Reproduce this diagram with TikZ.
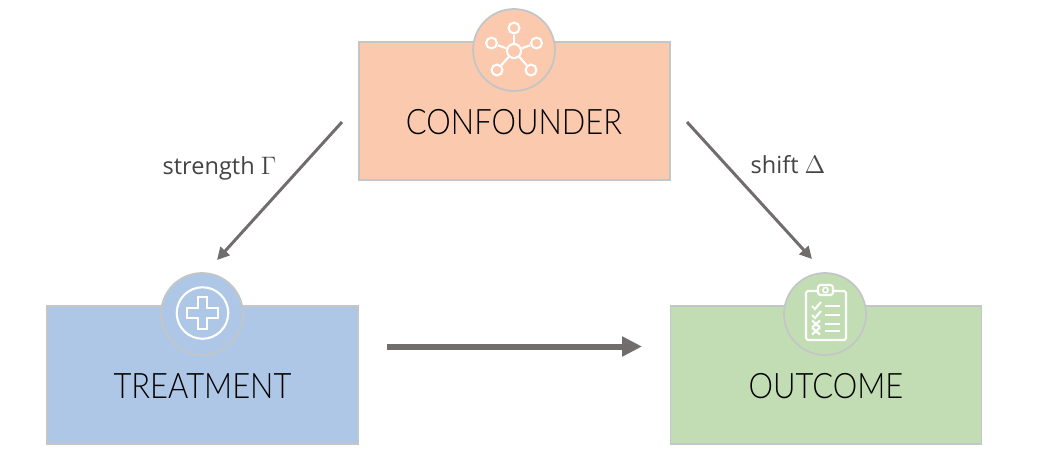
\documentclass[tikz,border=0pt]{standalone}
\usepackage{fontspec}
\setmainfont[FakeStretch=0.88]{Lato Light}
\newfontfamily\labelfont{Open Sans}
\usetikzlibrary{arrows.meta}
\definecolor{confcol}{HTML}{FBC9AD}
\definecolor{treatcol}{HTML}{AEC7E6}
\definecolor{outcol}{HTML}{C2DDB3}
\definecolor{edgecol}{HTML}{C3C6C6}
\definecolor{arrowcol}{HTML}{726D6D}
\definecolor{labelcol}{HTML}{444444}
\tikzset{
  box/.style = {draw=edgecol, line width=0.7pt, minimum width=6.22cm, minimum height=2.76cm, inner sep=0pt},
  badge/.style = {circle, draw=edgecol, line width=1pt, minimum size=1.64cm, inner sep=0pt},
  boxname/.style = {font=\fontsize{20}{24}\selectfont, text=black},
  edgelabel/.style = {font=\labelfont\fontsize{13.4}{16}\selectfont, text=labelcol},
  thin arrow/.style = {draw=arrowcol, line width=1.7pt, -{Triangle[length=7pt,width=7pt]}},
  thick arrow/.style = {draw=arrowcol, line width=3.4pt, -{Triangle[length=11.3pt,width=10.8pt]}},
  icon/.style = {draw=white, line width=1.2pt},
  hub/.style = {circle, icon, minimum size=8pt, inner sep=0pt},
  spoke/.style = {circle, icon, minimum size=6.2pt, inner sep=0pt}
}
\begin{document}
\begin{tikzpicture}[x=0.02cm, y=-0.02cm]
  \useasboundingbox (0,0) rectangle (1044,458);

  \node[box, fill=confcol] (confounder) at (514.5,111) {};
  \node[box, fill=treatcol] (treatment) at (202.5,375) {};
  \node[box, fill=outcol] (outcome) at (826,375) {};
  \node[boxname] (confname) at (514,122) {CONFOUNDER};
  \node[boxname] (treatname) at (202.5,386) {TREATMENT};
  \node[boxname] (outname) at (826,386) {OUTCOME};

  \node[badge, fill=confcol] (confbadge) at (514,50) {};
  \node[badge, fill=treatcol] (treatbadge) at (202,314) {};
  \node[badge, fill=outcol] (outbadge) at (825,314) {};

  % network icon
  \node[hub] (hub) at (514,51) {};
  \foreach \i/\x/\y in {a/514/28, b/536.5/43, c/531/70, d/497/70, e/491.5/43} {
    \node[spoke] (\i) at (\x,\y) {};
    \draw[icon] (hub) -- (\i);
  }

  % cross icon
  \node[circle, icon, minimum size=1.03cm, inner sep=0pt] (ring) at (202.5,313) {};
  \draw[icon] (198,297) -- (207,297) -- (207,308) -- (218,308) -- (218,318) -- (207,318)
    -- (207,329) -- (198,329) -- (198,318) -- (187,318) -- (187,308) -- (198,308) -- cycle;

  % clipboard icon
  \draw[icon, rounded corners=1pt] (818,291) -- (806,291) -- (806,340) -- (846,340) -- (846,291) -- (833,291);
  \draw[icon, rounded corners=1.5pt] (818,295) -- (818,285) -- (833,285) -- (833,295) -- cycle;
  \node[circle, icon, line width=0.9pt, minimum size=3pt, inner sep=0pt] (clip) at (825.5,290) {};
  \foreach \y in {306,315} {
    \draw[icon] (812,\y) -- (815,\y+3) -- (821,\y-4);
  }
  \foreach \y in {324,331} {
    \draw[icon] (812,\y-3.5) -- (820,\y+3.5) (820,\y-3.5) -- (812,\y+3.5);
  }
  \foreach \y in {306,315,324,331} {
    \draw[icon] (825,\y) -- (840,\y);
  }

  \coordinate (confleft) at (342,122);
  \coordinate (confright) at (687,122);
  \coordinate (treatin) at (217,260);
  \coordinate (outin) at (812,259);
  \coordinate (treatout) at (387,346.5);
  \coordinate (outleft) at (642,346.5);

  \draw[thin arrow] (confleft) to (treatin);
  \draw[thin arrow] (confright) to (outin);
  \draw[thick arrow] (treatout) to (outleft);

  \node[edgelabel] (gamma) at (219.5,168.5) {strength $\Gamma$};
  \node[edgelabel] (delta) at (788,165) {shift $\Delta$};
\end{tikzpicture}
\end{document}
